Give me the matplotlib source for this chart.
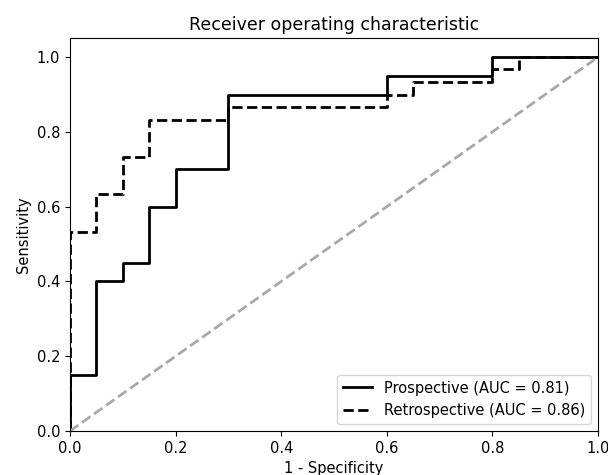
import matplotlib.pyplot as plt
import numpy as np

# ROC points
fpr_pro = [0.0, 0.0, 0.05, 0.05, 0.10, 0.10, 0.15, 0.15, 0.20, 0.20, 0.30, 0.30, 0.60, 0.60, 0.80, 0.80, 1.0]
tpr_pro = [0.0, 0.15, 0.15, 0.40, 0.40, 0.45, 0.45, 0.60, 0.60, 0.70, 0.70, 0.90, 0.90, 0.95, 0.95, 1.0, 1.0]

fpr_retro = [0.0, 0.0, 0.05, 0.05, 0.10, 0.10, 0.15, 0.15, 0.30, 0.30, 0.60, 0.60, 0.65, 0.65, 0.80, 0.80, 0.85, 0.85, 1.0]
tpr_retro = [0.0, 0.533, 0.533, 0.633, 0.633, 0.733, 0.733, 0.833, 0.833, 0.867, 0.867, 0.90, 0.90, 0.933, 0.933, 0.967, 0.967, 1.0, 1.0]

auc_pro = 0.81
auc_retro = 0.86

plt.rcParams['font.size'] = 10.5

fig = plt.figure(figsize=(6.08, 4.75), dpi=100)
ax = fig.add_axes([0.1151, 0.0926, 0.8685, 0.8265])

ax.plot(fpr_pro, tpr_pro, color='black', lw=2, linestyle='-',
        label='Prospective (AUC = %0.2f)' % auc_pro)
ax.plot(fpr_retro, tpr_retro, color='black', lw=2, linestyle='--',
        label='Retrospective (AUC = %0.2f)' % auc_retro)
ax.plot([0, 1], [0, 1], color='darkgray', lw=2, linestyle='--')

ax.set_xlim([0.0, 1.0])
ax.set_ylim([0.0, 1.05])
ax.set_xlabel('1 - Specificity')
ax.set_ylabel('Sensitivity')
ax.set_title('Receiver operating characteristic', fontsize=12.5)
ax.legend(loc='lower right')

fig.savefig('out.png', dpi=100)
